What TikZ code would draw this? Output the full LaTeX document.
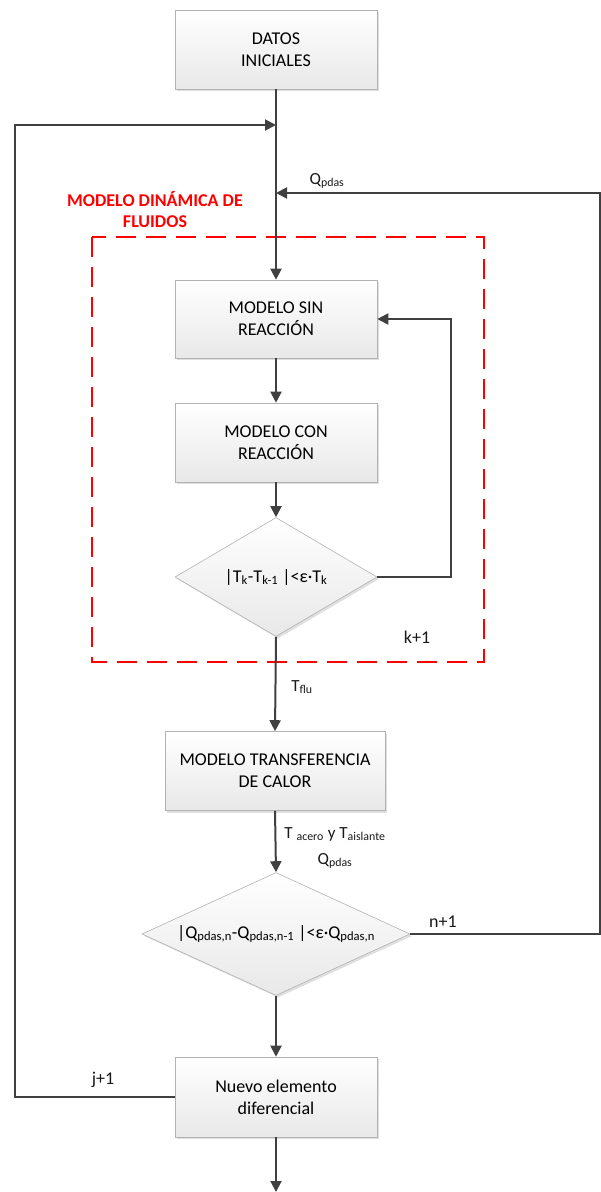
\documentclass[tikz,border=0pt]{standalone}
\usepackage{fontspec}
\setmainfont{Carlito}
\usetikzlibrary{arrows.meta,shapes.geometric,shadows}
\begin{document}
\begin{tikzpicture}[x=1pt,y=-1pt,
  box/.style={rectangle,draw=gray!60,line width=0.6pt,top color=white,bottom color=gray!18,
    drop shadow={opacity=0.25,shadow xshift=2pt,shadow yshift=-2pt},
    minimum width=202pt,minimum height=79pt,align=center,inner sep=2pt,
    font=\fontsize{18}{22}\selectfont},
  dec/.style={diamond,draw=gray!60,line width=0.6pt,top color=white,bottom color=gray!18,
    drop shadow={opacity=0.25,shadow xshift=2pt,shadow yshift=-2pt},
    inner sep=0pt,align=center,font=\fontsize{18}{22}\selectfont},
  conn/.style={draw=black!75,line width=2pt},
  arr/.style={conn,-{Triangle[length=11pt,width=11pt]}},
  lbl/.style={font=\fontsize{17}{20}\selectfont,text=black!90,inner sep=0pt},
  redbox/.style={draw=red,line width=2.8pt,dash pattern=on 20pt off 10pt}
]
\useasboundingbox (0,0) rectangle (601,1192);
% red dashed region
\draw[redbox] (92,237) rectangle (484,662);
\node[font=\fontsize{18}{21}\selectfont\bfseries,text=red,align=center] (redlbl) at (155,210) {MODELO DINÁMICA DE\\FLUIDOS};

\node[box] (datos) at (276,49.5) {DATOS\\INICIALES};
\node[box,minimum height=78pt] (sin) at (276,319) {MODELO SIN\\REACCIÓN};
\node[box] (con) at (276,442.5) {MODELO CON\\REACCIÓN};
\node[dec,aspect=1.7,minimum width=202pt,minimum height=119pt] (d1) at (276,577) {|T\textsubscript{k}-T\textsubscript{k-1} |<ε·T\textsubscript{k}};
\node[box,minimum width=220pt] (trans) at (275,771) {MODELO TRANSFERENCIA\\DE CALOR};
\node[dec,aspect=2.18,minimum width=268pt,minimum height=123pt] (d2) at (276,934) {|Q\textsubscript{pdas,n}-Q\textsubscript{pdas,n-1} |<ε·Q\textsubscript{pdas,n}};
\node[box,minimum height=80pt] (nuevo) at (276,1097) {Nuevo elemento\\diferencial};

\coordinate (jin) at (276,125);
\coordinate (qin) at (276,193);
\coordinate (bot) at (276,1192);
\coordinate (rfb) at (451,577);
\coordinate (rq) at (600,934);
\coordinate (lj) at (15,1097);

% main flow
\draw[arr] (datos.south) -- (sin.north);
\draw[arr] (sin.south) -- (con.north);
\draw[arr] (con.south) -- (d1.north);
\draw[arr] (d1.south) -- (trans.north);
\draw[arr] (trans.south) -- (d2.north);
\draw[arr] (d2.south) -- (nuevo.north);
\draw[arr] (nuevo.south) -- (bot);
% loops
\draw[arr] (d1.east) -- (rfb) |- (sin.east);
\draw[arr] (d2.east) -- (rq) |- (qin);
\draw[arr] (nuevo.west) -- (lj) |- (jin);

% labels
\node[lbl] (qlbl) at (327,181) {Q\textsubscript{pdas}};
\node[lbl,font=\fontsize{18}{20}\selectfont] (klbl) at (417,637) {k+1};
\node[lbl] (tflu) at (302,687) {T\textsubscript{flu}};
\node[lbl] (tacero) at (335,834) {T \textsubscript{acero} y T\textsubscript{aislante}};
\node[lbl] (qpd) at (335,861) {Q\textsubscript{pdas}};
\node[lbl,font=\fontsize{18}{20}\selectfont] (nlbl) at (443,922) {n+1};
\node[lbl,font=\fontsize{18}{20}\selectfont] (jlbl) at (103,1080) {j+1};
\end{tikzpicture}
\end{document}
